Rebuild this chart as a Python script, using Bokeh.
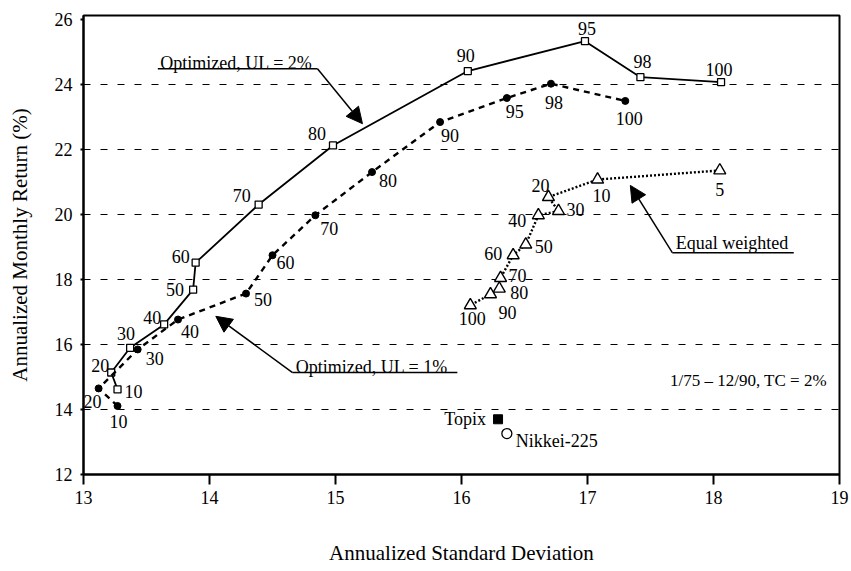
from bokeh.plotting import figure
from bokeh.models import (ColumnDataSource, LabelSet, Label, Arrow, NormalHead,
                          FixedTicker, Range1d)
from bokeh.embed import file_html
from bokeh.resources import INLINE

# ---------------- data ----------------
ul2_labels = ["10", "20", "30", "40", "50", "60", "70", "80", "90", "95", "98", "100"]
ul2_sd = [13.27, 13.22, 13.37, 13.64, 13.87, 13.89, 14.39, 14.98, 16.05, 16.98, 17.42, 18.06]
ul2_ret = [14.62, 15.14, 15.90, 16.62, 17.69, 18.52, 20.31, 22.13, 24.42, 25.34, 24.23, 24.08]

ul1_labels = ["10", "20", "30", "40", "50", "60", "70", "80", "90", "95", "98", "100"]
ul1_sd = [13.27, 13.12, 13.43, 13.75, 14.29, 14.50, 14.84, 15.29, 15.83, 16.36, 16.71, 17.30]
ul1_ret = [14.11, 14.65, 15.85, 16.77, 17.57, 18.75, 19.98, 21.31, 22.85, 23.59, 24.03, 23.50]

ew_labels = ["5", "10", "20", "30", "40", "50", "60", "70", "80", "90", "100"]
ew_sd = [18.05, 17.08, 16.69, 16.77, 16.61, 16.51, 16.41, 16.31, 16.30, 16.23, 16.07]
ew_ret = [21.36, 21.08, 20.54, 20.11, 19.98, 19.08, 18.75, 18.05, 17.72, 17.55, 17.21]

index_names = ["Topix", "Nikkei-225"]
index_sd = [16.29, 16.36]
index_ret = [13.70, 13.26]

x_ticks = [13, 14, 15, 16, 17, 18, 19]
y_ticks = [12, 14, 16, 18, 20, 22, 24, 26]
grid_ticks = [14, 16, 18, 20, 22, 24]

# label offsets (screen px, +dy = down)
ul2_dx = [16, -11, -4, -12, -18, -15, -17, -16, -2, 2, 2, -2]
ul2_dy = [2, -7, -14, -7, 0, -6, -9, -12, -16, -13, -16, -13]
ul1_dx = [1, -6, 17, 12, 17, 13, 14, 16, 10, 8, 3, 4]
ul1_dy = [16, 13, 9, 12, 6, 7, 13, 8, 13, 13, 19, 18]
ew_dx = [0, 4, -8, 17, -21, 18, -20, 17, 20, 17, 2]
ew_dy = [19, 16, -12, -2, 5, 2, -2, -2, 4, 18, 13]

FONT = "Liberation Serif"

p = figure(width=851, height=571, output_backend="svg", toolbar_location=None,
           x_range=Range1d(13, 19), y_range=Range1d(12, 26.13),
           min_border_left=83, min_border_right=12, min_border_top=15,
           min_border_bottom=97, background_fill_color="white",
           border_fill_color="white")

p.outline_line_color = "black"
p.outline_line_width = 2
p.xgrid.visible = False
p.ygrid.ticker = FixedTicker(ticks=grid_ticks)
p.ygrid.grid_line_color = "black"
p.ygrid.grid_line_dash = "7 10"
p.ygrid.grid_line_width = 1.2

p.xaxis.ticker = FixedTicker(ticks=x_ticks)
p.yaxis.ticker = FixedTicker(ticks=y_ticks)
for ax in (p.xaxis[0], p.yaxis[0]):
    ax.axis_line_width = 2
    ax.axis_line_color = "black"
    ax.major_tick_line_color = "black"
    ax.major_tick_line_width = 2
    ax.minor_tick_line_color = None
    ax.major_label_text_font = FONT
    ax.major_label_text_font_size = "18px"
    ax.major_label_text_color = "black"
    ax.axis_label_text_font = FONT
    ax.axis_label_text_font_size = "21px"
    ax.axis_label_text_font_style = "normal"
    ax.axis_label_text_color = "black"
p.xaxis.major_tick_out = 10
p.xaxis.major_tick_in = 0
p.xaxis.major_label_standoff = 6
p.xaxis.axis_label = "Annualized Standard Deviation"
p.xaxis.axis_label_standoff = 34
p.yaxis.major_tick_out = 3
p.yaxis.major_tick_in = 0
p.yaxis.major_label_standoff = 8
p.yaxis.axis_label = "Annualized Monthly Return (%)"
p.yaxis.axis_label_standoff = 20

# ---------------- series ----------------
s2 = ColumnDataSource(dict(x=ul2_sd, y=ul2_ret, t=ul2_labels, dx=ul2_dx,
                           dy=[-d for d in ul2_dy]))
s1 = ColumnDataSource(dict(x=ul1_sd, y=ul1_ret, t=ul1_labels, dx=ul1_dx,
                           dy=[-d for d in ul1_dy]))
se = ColumnDataSource(dict(x=ew_sd, y=ew_ret, t=ew_labels, dx=ew_dx,
                           dy=[-d for d in ew_dy]))

p.line("x", "y", source=s2, line_color="black", line_width=1.8)
p.scatter("x", "y", source=s2, marker="square", size=7, fill_color="white",
          line_color="black", line_width=1.3)

p.line("x", "y", source=s1, line_color="black", line_width=2.4, line_dash="6 5")
p.scatter("x", "y", source=s1, marker="circle", size=7, fill_color="black",
          line_color="black")

p.line("x", "y", source=se, line_color="black", line_width=2.4, line_dash="2 2")
p.scatter("x", "y", source=se, marker="triangle", size=12, fill_color="white",
          line_color="black", line_width=1.4)

for src in (s2, s1, se):
    p.add_layout(LabelSet(x="x", y="y", text="t", source=src, x_offset="dx",
                          y_offset="dy", text_align="center",
                          text_baseline="middle", text_font=FONT,
                          text_font_size="18px", text_color="black"))

# index points
p.scatter([index_sd[0]], [index_ret[0]], marker="square", size=9,
          fill_color="black", line_color="black")
p.scatter([index_sd[1]], [index_ret[1]], marker="circle", size=10,
          fill_color="white", line_color="black", line_width=1.3)
p.add_layout(Label(x=index_sd[0], y=index_ret[0], text=index_names[0],
                   x_offset=-12, y_offset=0, text_align="right",
                   text_baseline="middle", text_font=FONT,
                   text_font_size="18px", text_color="black"))
p.add_layout(Label(x=index_sd[1], y=index_ret[1], text=index_names[1],
                   x_offset=9, y_offset=-7, text_align="left",
                   text_baseline="middle", text_font=FONT,
                   text_font_size="18px", text_color="black"))

# ---------------- annotations ----------------
def callout(text, tx, ty, ux0, ux1, uy, ax0, ay0, ax1, ay1):
    p.add_layout(Label(x=tx, y=ty, text=text, text_align="left",
                       text_baseline="alphabetic", text_font=FONT,
                       text_font_size="18px", text_color="black"))
    p.line([ux0, ux1], [uy, uy], line_color="black", line_width=1.5)
    p.add_layout(Arrow(end=NormalHead(size=16, fill_color="black",
                                      line_color="black", line_width=1),
                       x_start=ax0, y_start=ay0, x_end=ax1, y_end=ay1,
                       line_color="black", line_width=1.5))

callout("Optimized, UL = 2%", 13.61, 24.66, 13.59, 14.857, 24.49,
        14.857, 24.49, 15.214, 22.80)
callout("Optimized, UL = 1%", 14.685, 15.31, 14.659, 15.967, 15.138,
        14.659, 15.138, 14.05, 16.87)
callout("Equal weighted", 17.70, 19.12, 17.673, 18.637, 18.83,
        17.673, 18.83, 17.34, 20.90)

p.add_layout(Label(x=18.90, y=14.90, text="1/75 \u2013 12/90, TC = 2%",
                   text_align="right", text_baseline="middle", text_font=FONT,
                   text_font_size="17px", text_color="black"))

open("out.html", "w").write(file_html(p, INLINE))
